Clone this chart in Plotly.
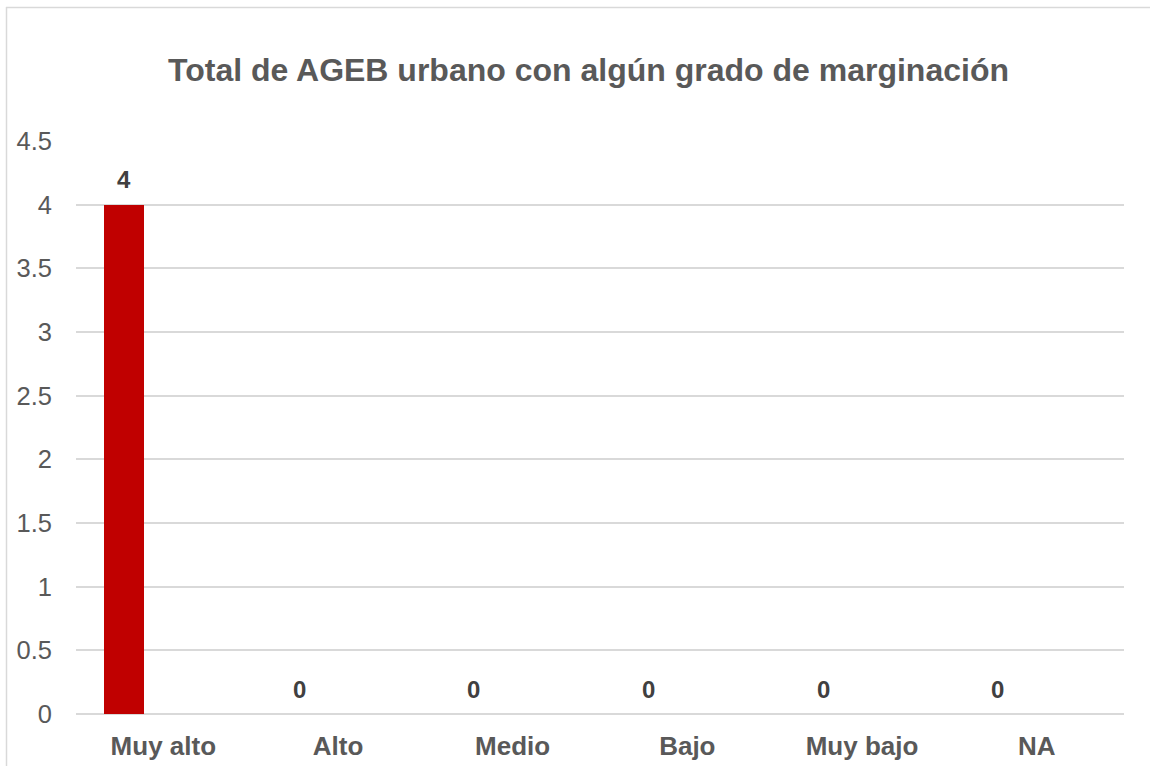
import plotly.graph_objects as go

categories = ["Muy alto", "Alto", "Medio", "Bajo", "Muy bajo", "NA"]
values = [4, 0, 0, 0, 0, 0]
y_ticks = [0, 0.5, 1, 1.5, 2, 2.5, 3, 3.5, 4, 4.5]
y_tick_labels = ["0", "0.5", "1", "1.5", "2", "2.5", "3", "3.5", "4", "4.5"]
title_text = "Total de AGEB urbano con algún grado de marginación"

FONT = "Liberation Sans, Arial, sans-serif"

fig = go.Figure()
fig.add_trace(go.Bar(
    x=categories, y=values,
    marker=dict(color="#C00000", line=dict(width=0)),
    width=0.229, offset=-0.339,
    hoverinfo="x+y",
))

annotations = []
for c, v in zip(categories, values):
    annotations.append(dict(
        x=c, y=v, xref="x", yref="y", text=str(v), showarrow=False,
        xshift=-39, yshift=25, yanchor="middle", xanchor="center",
        font=dict(family=FONT, size=24, color="#404040", weight="bold"),
    ))

W, H = 1150, 766
L, R, T, B = 76, 26, 141, 52
pw, ph = W - L - R, H - T - B

def px_x(x):
    return (x - L) / pw

def px_y(y):
    return (H - B - y) / ph

shapes = [
    dict(type="line", xref="paper", yref="paper", x0=px_x(6), x1=px_x(1150),
         y0=px_y(7.5), y1=px_y(7.5), line=dict(color="#D9D9D9", width=1.5)),
    dict(type="line", xref="paper", yref="paper", x0=px_x(6.5), x1=px_x(6.5),
         y0=px_y(7), y1=px_y(766), line=dict(color="#D9D9D9", width=1.5)),
]

fig.update_layout(
    width=W, height=H,
    margin=dict(l=L, r=R, t=T, b=B, pad=0, autoexpand=False),
    paper_bgcolor="white", plot_bgcolor="white",
    showlegend=False,
    title=dict(text=title_text, x=588.5 / W, xref="container", xanchor="center",
               y=1 - 70 / H, yref="container", yanchor="middle",
               font=dict(family=FONT, size=32, color="#595959", weight="bold")),
    xaxis=dict(type="category", showgrid=False, zeroline=False, showline=False,
               ticks="", ticklabelstandoff=14, automargin=False,
               tickfont=dict(family=FONT, size=26, color="#595959", weight="bold")),
    yaxis=dict(range=[0, 4.5], tickvals=y_ticks, ticktext=y_tick_labels,
               showgrid=True, gridcolor="#D9D9D9", gridwidth=1.5,
               zeroline=True, zerolinecolor="#D9D9D9", zerolinewidth=1.5,
               showline=False, ticks="", ticklabelstandoff=23, automargin=False,
               tickfont=dict(family=FONT, size=25.5, color="#595959")),
    annotations=annotations,
    shapes=shapes,
    bargap=0,
)

fig.write_html("out.html", config={"displayModeBar": False},
               post_script="document.body.style.margin='0';document.body.style.overflow='hidden';")
